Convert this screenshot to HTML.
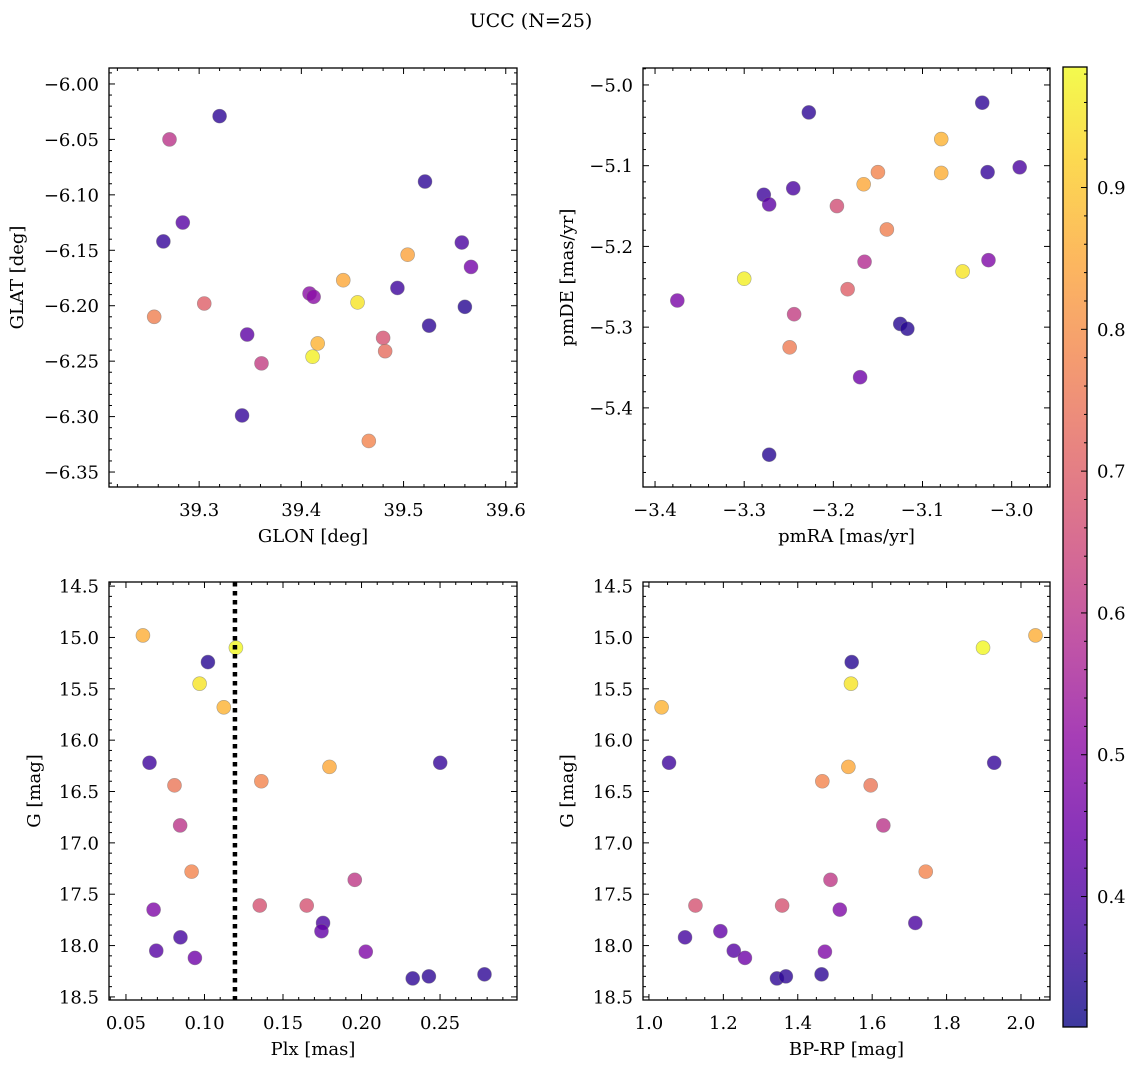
<!DOCTYPE html>
<html><head><meta charset="utf-8">
<style>
body{margin:0;background:#fff;}
svg{display:block;font-family:"DejaVu Serif","Liberation Serif",serif;}
</style></head>
<body>
<svg id="fig" width="1136" height="1067" viewBox="0 0 1136 1067" xmlns="http://www.w3.org/2000/svg">
<text x="531" y="27" font-size="19" text-anchor="middle">UCC (N=25)</text>
</svg>
<script>
// ---- data ----
const glon = [39.320,39.271,39.265,39.284,39.256,39.305,39.347,39.361,39.342,39.408,39.412,39.416,39.411,39.441,39.455,39.466,39.480,39.482,39.494,39.504,39.521,39.525,39.557,39.560,39.566];
const glat = [-6.029,-6.050,-6.142,-6.125,-6.210,-6.198,-6.226,-6.252,-6.299,-6.189,-6.192,-6.234,-6.246,-6.177,-6.197,-6.322,-6.229,-6.241,-6.184,-6.154,-6.088,-6.218,-6.143,-6.201,-6.165];
const probPos = [0.35,0.60,0.36,0.41,0.77,0.70,0.42,0.62,0.36,0.50,0.50,0.87,0.97,0.85,0.95,0.78,0.67,0.73,0.37,0.84,0.35,0.35,0.39,0.34,0.46];
const pmra = [-3.2275,-3.033,-3.079,-3.278,-3.272,-3.245,-3.166,-3.150,-3.079,-3.027,-2.991,-3.196,-3.140,-3.165,-3.184,-3.055,-3.026,-3.300,-3.375,-3.244,-3.249,-3.125,-3.117,-3.170,-3.272];
const pmde = [-5.034,-5.022,-5.067,-5.136,-5.148,-5.128,-5.123,-5.108,-5.109,-5.108,-5.102,-5.150,-5.179,-5.219,-5.253,-5.231,-5.217,-5.240,-5.267,-5.284,-5.325,-5.296,-5.302,-5.362,-5.458];
const probPm = [0.35,0.35,0.87,0.37,0.42,0.39,0.85,0.78,0.86,0.36,0.39,0.66,0.77,0.58,0.70,0.95,0.48,0.97,0.47,0.62,0.76,0.34,0.34,0.45,0.34];
const plx  = [0.0608,0.120,0.1022,0.0969,0.1123,0.0650,0.1796,0.2501,0.0809,0.1362,0.0845,0.0918,0.1957,0.0676,0.1352,0.1651,0.1755,0.1745,0.0847,0.0693,0.0939,0.2027,0.2326,0.2429,0.2783];
const gmag = [14.98,15.10,15.24,15.45,15.68,16.22,16.26,16.22,16.44,16.40,16.83,17.28,17.36,17.65,17.61,17.61,17.78,17.86,17.92,18.05,18.12,18.06,18.32,18.30,18.28];
const bprp = [2.039,1.898,1.545,1.543,1.034,1.054,1.536,1.928,1.596,1.466,1.630,1.744,1.488,1.513,1.125,1.358,1.716,1.192,1.097,1.228,1.258,1.473,1.344,1.368,1.464];
const probPh = [0.86,0.98,0.34,0.95,0.87,0.37,0.85,0.36,0.75,0.78,0.60,0.78,0.61,0.48,0.67,0.67,0.39,0.43,0.38,0.41,0.45,0.48,0.35,0.35,0.35];
const plxCut = 0.1194;
const cbTicks = [0.4,0.5,0.6,0.7,0.8,0.9];

const NS = "http://www.w3.org/2000/svg";
const svg = document.getElementById('fig');
const cmin = 0.308, cmax = 0.985;
const stops = ["#0d0887","#41049d","#6a00a8","#8f0da4","#b12a90","#cc4778","#e16462","#f2844b","#fca636","#fcce25","#f0f921"];
function hex(h){return [parseInt(h.substr(1,2),16),parseInt(h.substr(3,2),16),parseInt(h.substr(5,2),16)];}
function plasma(t){
  t=Math.max(0,Math.min(1,t));
  const f=t*10, i=Math.min(9,Math.floor(f)), r=f-i;
  const a=hex(stops[i]), b=hex(stops[i+1]);
  return 'rgb('+a.map((v,k)=>Math.round(v+(b[k]-v)*r)).join(',')+')';
}
function el(tag, attrs, parent){
  const e=document.createElementNS(NS,tag);
  for(const k in attrs) e.setAttribute(k,attrs[k]);
  (parent||svg).appendChild(e); return e;
}
function fmt(v,d){const s=Math.abs(v).toFixed(d);return (v<-1e-9?'\u2212':'')+s;}

function panel(o){
  const g=el('g',{});
  
  
  const X=v=>o.x0+(v-o.xmin)/(o.xmax-o.xmin)*(o.x1-o.x0);
  const Y=v=> o.yinv ? o.y0+(v-o.ymin)/(o.ymax-o.ymin)*(o.y1-o.y0)
                     : o.y1-(v-o.ymin)/(o.ymax-o.ymin)*(o.y1-o.y0);
  for(let i=0;i<o.xs.length;i++){
    const c=el('circle',{cx:X(o.xs[i]),cy:Y(o.ys[i]),r:7,fill:plasma((o.cs[i]-cmin)/(cmax-cmin)),'fill-opacity':0.8,stroke:'#777','stroke-opacity':0.6,'stroke-width':0.6},g);
    
    
  }
  if(o.vline!==undefined){
    const l=el('line',{x1:X(o.vline),x2:X(o.vline),y1:o.y0,y2:o.y1,stroke:'#000','stroke-width':4.5,'stroke-dasharray':'4.5 4.5'},g);
    
    
  }
  const fr=el('rect',{x:o.x0,y:o.y0,width:o.x1-o.x0,height:o.y1-o.y0,fill:'none',stroke:'#000','stroke-width':1.3},g);
  
  
  const nx0=Math.ceil(o.xmin/o.xminor-1e-6), nx1=Math.floor(o.xmax/o.xminor+1e-6);
  for(let n=nx0;n<=nx1;n++){
    const v=n*o.xminor, px=X(v);
    const major=Math.abs(n%o.xsub)<1e-9;
    const L=major?6:3;
    el('line',{x1:px,x2:px,y1:o.y1,y2:o.y1-L,stroke:'#000','stroke-width':1},g);
    el('line',{x1:px,x2:px,y1:o.y0,y2:o.y0+L,stroke:'#000','stroke-width':1},g);
    if(major){
      const t=el('text',{x:px,y:o.y1+29,'font-size':18,'text-anchor':'middle'},g);
      t.textContent=fmt(v,o.xdec);
      
      
    }
  }
  const ny0=Math.ceil(o.ymin/o.yminor-1e-6), ny1=Math.floor(o.ymax/o.yminor+1e-6);
  for(let n=ny0;n<=ny1;n++){
    const v=n*o.yminor, py=Y(v);
    const major=Math.abs(n%o.ysub)<1e-9;
    const L=major?6:3;
    el('line',{x1:o.x0,x2:o.x0+L,y1:py,y2:py,stroke:'#000','stroke-width':1},g);
    el('line',{x1:o.x1,x2:o.x1-L,y1:py,y2:py,stroke:'#000','stroke-width':1},g);
    if(major){
      const t=el('text',{x:o.x0-10,y:py+6.5,'font-size':18,'text-anchor':'end'},g);
      t.textContent=fmt(v,o.ydec);
      
      
    }
  }
  const xl=el('text',{x:(o.x0+o.x1)/2,y:o.y1+55,'font-size':18,'text-anchor':'middle'},g);
  xl.textContent=o.xlabel;
  
  
  const yl=el('text',{x:0,y:0,'font-size':18,'text-anchor':'middle',transform:'translate('+o.ylx+','+((o.y0+o.y1)/2)+') rotate(-90)'},g);
  yl.textContent=o.ylabel;
  
  
}

panel({name:'glon-glat-panel',x0:109,x1:517,y0:68,y1:487,xmin:39.2118,xmax:39.611,ymin:-6.3635,ymax:-5.9856,
  xminor:0.02,xsub:5,xdec:1,yminor:0.01,ysub:5,ydec:2,xs:glon,ys:glat,cs:probPos,xlabel:'GLON [deg]',ylabel:'GLAT [deg]',ylx:23});
panel({name:'pm-panel',x0:643,x1:1050,y0:68,y1:487,xmin:-3.4135,xmax:-2.957,ymin:-5.498,ymax:-4.979,
  xminor:0.02,xsub:5,xdec:1,yminor:0.02,ysub:5,ydec:1,xs:pmra,ys:pmde,cs:probPm,xlabel:'pmRA [mas/yr]',ylabel:'pmDE [mas/yr]',ylx:573});
panel({name:'plx-g-panel',x0:109,x1:517,y0:582,y1:1000,xmin:0.0392,xmax:0.299,ymin:14.46,ymax:18.53,yinv:true,
  xminor:0.01,xsub:5,xdec:2,yminor:0.1,ysub:5,ydec:1,xs:plx,ys:gmag,cs:probPh,vline:plxCut,xlabel:'Plx [mas]',ylabel:'G [mag]',ylx:40});
panel({name:'cmd-panel',x0:643,x1:1050,y0:582,y1:1000,xmin:0.984,xmax:2.078,ymin:14.46,ymax:18.53,yinv:true,
  xminor:0.05,xsub:4,xdec:1,yminor:0.1,ysub:5,ydec:1,xs:bprp,ys:gmag,cs:probPh,xlabel:'BP-RP [mag]',ylabel:'G [mag]',ylx:573});

// colorbar
const cb=el('g',{});


const defs=el('defs',{},cb);
const lg=el('linearGradient',{id:'cbg',x1:0,y1:1,x2:0,y2:0},defs);
for(let i=0;i<=20;i++){el('stop',{offset:(i/20),'stop-color':plasma(i/20),'stop-opacity':0.8},lg);}
const cbx0=1063,cbx1=1087,cby0=67,cby1=1027;
el('rect',{x:cbx0,y:cby0,width:cbx1-cbx0,height:cby1-cby0,fill:'url(#cbg)',stroke:'#000','stroke-width':1.3},cb);
const CY=v=>cby1-(v-cmin)/(cmax-cmin)*(cby1-cby0);
for(let n=Math.ceil(cmin/0.02);n<=Math.floor(cmax/0.02);n++){
  const v=n*0.02, py=CY(v); const major=(n%5===0);
  el('line',{x1:cbx1,x2:cbx1-(major?6:3),y1:py,y2:py,stroke:'#000','stroke-width':1},cb);
}
cbTicks.forEach(v=>{
  const t=el('text',{x:cbx1+10,y:CY(v)+6.5,'font-size':18},cb);
  t.textContent=v.toFixed(1);
  
  
});
</script>
</body></html>
